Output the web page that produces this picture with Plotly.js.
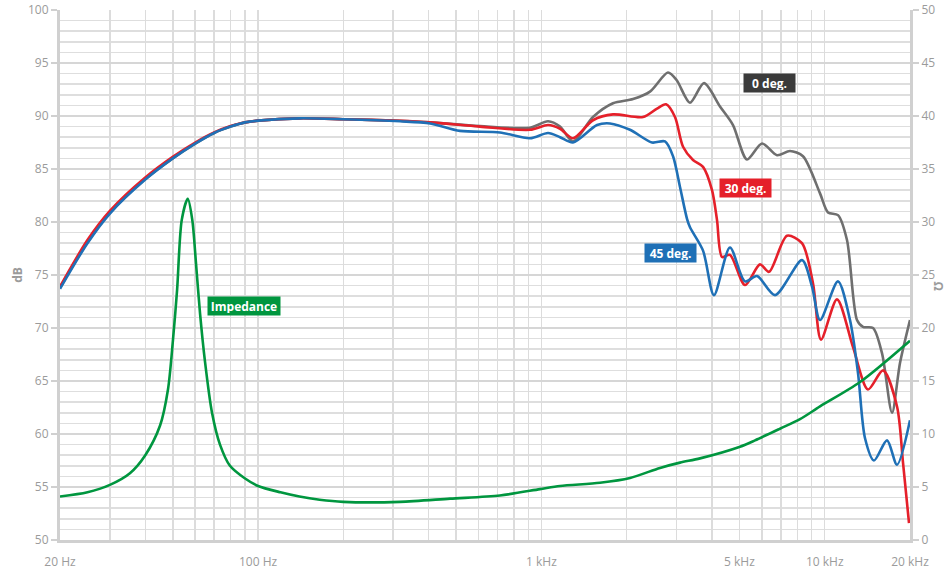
<!DOCTYPE html>
<html>
<head>
<meta charset="utf-8">
<script src="https://cdn.plot.ly/plotly-3.0.1.min.js"></script>
<style>
html,body{margin:0;padding:0;background:#fff;}
#chart{width:951px;height:570px;}
</style>
</head>
<body>
<div id="chart"></div>
<script>
// 0 deg. response (dB)
const freq0 = [20,25,30,40,50,60,70,80,90,100,140,200,317,405,607,912,1056,1164,1293,1521,1790,2106,2417,2798,3000,3346,3750,4270,4746,5318,6008,6786,7542,8382,9626,10272,11138,11984,13000,13652,14808,15936,17284,18438,20000];
const spl0  = [73.8,78.1,80.85,84.05,86.0,87.4,88.4,89.0,89.4,89.56,89.78,89.7,89.55,89.4,89.05,88.9,89.5,89.0,87.6,89.9,91.2,91.6,92.3,94.1,93.4,91.25,93.1,90.9,89.15,85.9,87.4,86.3,86.7,86.2,82.7,80.9,80.65,78.3,70.75,70.1,70.0,67.6,62.0,66.7,70.75];

// 30 deg. response (dB)
const freq30 = [20,25,30,40,50,60,70,80,90,100,140,200,317,405,607,912,1056,1164,1293,1521,1790,2283,2560,2754,2962,3162,3429,3720,4002,4167,4340,4630,5232,5910,6360,7360,8314,9094,9704,11050,12586,14220,16064,17998,18896,19840];
const spl30  = [73.9,78.3,81.05,84.2,86.15,87.5,88.45,89.05,89.4,89.56,89.78,89.7,89.55,89.4,89.0,88.7,89.15,88.8,87.9,89.6,90.15,89.9,90.7,91.1,89.9,87.1,85.85,85.2,83.0,80.2,76.7,76.9,74.05,76.0,75.3,78.7,78.0,74.2,68.9,72.7,68.2,64.2,66.0,62.6,57.3,51.6];

// 45 deg. response (dB)
const freq45 = [20,25,30,40,50,60,70,80,90,100,140,200,317,405,516,714,912,1056,1164,1293,1572,1746,2055,2457,2731,2915,3085,3266,3346,3720,4066,4630,5232,5768,6678,8314,9020,9626,11138,12282,13108,13876,14928,16594,17998,20000];
const spl45  = [73.7,78.0,80.8,84.0,86.0,87.4,88.4,89.0,89.4,89.56,89.78,89.7,89.5,89.3,88.6,88.45,87.9,88.4,88.0,87.5,89.15,89.3,88.7,87.5,87.6,86.2,83.3,80.3,79.5,77.3,73.1,77.6,74.4,74.9,73.1,76.4,73.9,70.75,74.4,70.75,65.75,59.6,57.5,59.4,57.1,61.3];

// Impedance (ohm, right axis)
const freqZ = [20,25,30,35.3,40,45.1,48.1,50.1,51.8,53.8,56.5,58.6,60.4,62.4,65,68.8,73.4,79.6,90,100,120,140,165,200,317,476,714,989,1164,1610,2055,2622,3085,3630,5024,5676,6954,8180,9626,13322,20000];
const imped = [4.1,4.5,5.2,6.3,8.0,10.8,14.2,18.9,23.6,30.2,32.2,30.2,26.1,21.4,16.8,12.0,9.0,7.0,5.8,5.1,4.5,4.1,3.8,3.6,3.6,3.9,4.2,4.8,5.1,5.4,5.85,6.8,7.3,7.7,8.8,9.4,10.5,11.4,12.6,14.9,18.8];

// axis ticks
const xGridVals = [20,30,40,50,60,70,80,90,100,200,300,400,500,600,700,800,900,1000,2000,3000,4000,5000,6000,7000,8000,9000,10000,20000];
const xLabelVals = [20,100,1000,5000,10000,20000];
const xLabelText = ['20 Hz','100 Hz','1 kHz','5 kHz','10 kHz','20 kHz'];

const xTickText = xGridVals.map(v => {
  const i = xLabelVals.indexOf(v);
  return i >= 0 ? xLabelText[i] : '';
});

const cGray = '#6f6f6f', cRed = '#e5202a', cBlue = '#1f70b6', cGreen = '#00963f';
const lw = 2.6;

const traces = [
  {x: freq0, y: spl0, mode:'lines', line:{color:cGray, width:lw, shape:'spline', smoothing:0.8}, hoverinfo:'skip'},
  {x: freq30, y: spl30, mode:'lines', line:{color:cRed, width:lw, shape:'spline', smoothing:0.8}, hoverinfo:'skip'},
  {x: freq45, y: spl45, mode:'lines', line:{color:cBlue, width:lw, shape:'spline', smoothing:0.8}, hoverinfo:'skip'},
  {x: freqZ, y: imped, yaxis:'y2', mode:'lines', line:{color:cGreen, width:lw, shape:'spline', smoothing:0.8}, hoverinfo:'skip'}
];

const tickFont = {family:'Open Sans, sans-serif', size:12, color:'#9b9b9b'};
const boxFont = {family:'Open Sans, sans-serif', size:12, color:'#ffffff', weight:'bold'};

function label(text, x, y, bg, w){
  return {text:'<b>'+text+'</b>', xref:'paper', yref:'paper', x:x, y:y, showarrow:false,
    font:boxFont, bgcolor:bg, borderpad:2, width:w, height:14, align:'center',
    xanchor:'center', yanchor:'middle'};
}

const layout = {
  width:951, height:570,
  margin:{l:60, r:41, t:10, b:30, pad:0},
  paper_bgcolor:'#ffffff', plot_bgcolor:'#ffffff',
  showlegend:false,
  xaxis:{
    type:'log', range:[Math.log10(20), Math.log10(20000)],
    tickmode:'array', tickvals:xGridVals, ticktext:xTickText,
    showgrid:true, gridcolor:'#dcdcdc', gridwidth:1.5,
    showline:true, linecolor:'#d0d0d0', linewidth:3,
    ticks:'outside', ticklen:9, tickcolor:'rgba(0,0,0,0)',
    tickfont:tickFont, zeroline:false, fixedrange:true
  },
  yaxis:{
    range:[50,100], tickmode:'linear', tick0:50, dtick:5,
    showgrid:true, gridcolor:'#d6d6d6', gridwidth:2.5,
    minor:{dtick:1, tick0:50, showgrid:true, gridcolor:'#dedede', gridwidth:1.5, ticks:''},
    showline:true, linecolor:'#d0d0d0', linewidth:3,
    ticks:'outside', ticklen:6, tickwidth:2, tickcolor:'#d0d0d0',
    tickfont:tickFont, zeroline:false,
    title:{text:'<b>dB</b>', font:{family:'Open Sans, sans-serif', size:12, color:'#9b9b9b'}, standoff:3}
  },
  yaxis2:{
    overlaying:'y', side:'right', range:[0,50], tickmode:'linear', tick0:0, dtick:5,
    showgrid:false, showline:true, linecolor:'#d0d0d0', linewidth:3,
    ticks:'outside', ticklen:6, tickwidth:2, tickcolor:'#d0d0d0',
    tickfont:tickFont, zeroline:false
  },
  annotations:[
    label('0 deg.', 0.835, 0.862, '#3b3b3b', 47),
    label('30 deg.', 0.806, 0.664, '#e5202a', 47),
    label('45 deg.', 0.718, 0.5415, '#1f70b6', 47),
    label('Impedance', 0.2165, 0.4415, '#00963f', 68),
    {text:'<b>Ω</b>', xref:'paper', yref:'paper', x:1.046, y:0.479, showarrow:false,
     textangle:90, font:{family:'Open Sans, sans-serif', size:12, color:'#9b9b9b'},
     xanchor:'right', yanchor:'middle'}
  ]
};

Plotly.newPlot('chart', traces, layout, {displayModeBar:false, staticPlot:true});
</script>
</body>
</html>
